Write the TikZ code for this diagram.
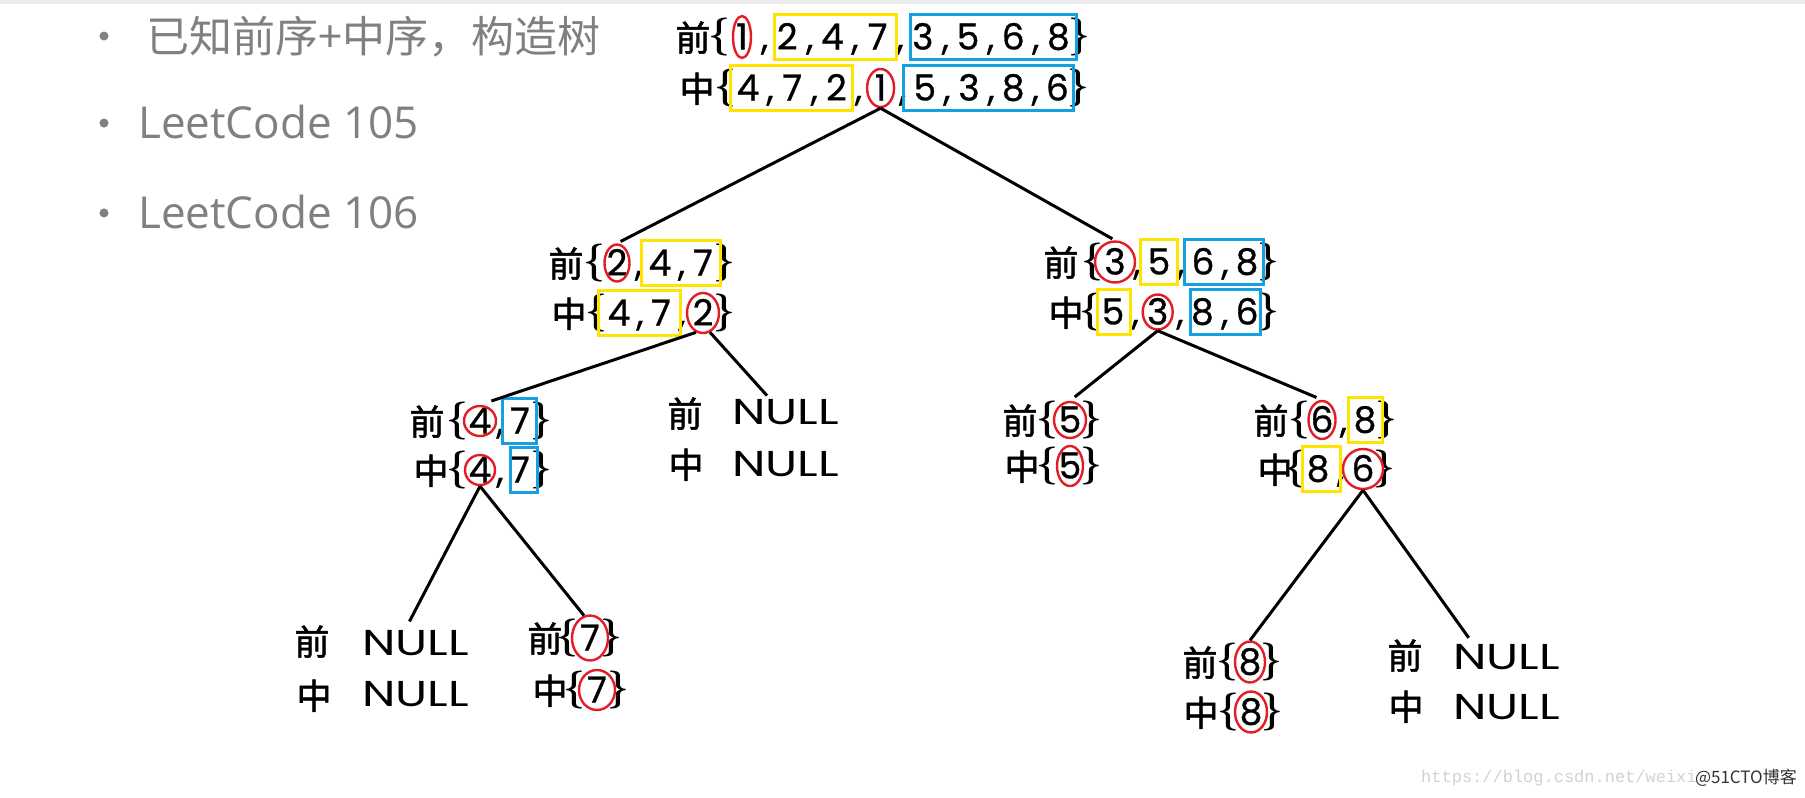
\documentclass[tikz,border=0pt]{standalone}
\usepackage{fontspec}
\usepackage{graphicx}
\usetikzlibrary{calc,shapes.geometric}
\newfontfamily\cjk{Noto Sans CJK SC}
\newfontfamily\cjkb{Noto Sans CJK SC}[FakeBold=1.5]
\newfontfamily\digf{Poppins}[FakeBold=0.8]
\newfontfamily\nulf{Poppins}
\newfontfamily\osans{Open Sans}
\newfontfamily\wmono{Liberation Mono}
\definecolor{boxyellow}{RGB}{255,228,0}
\definecolor{boxblue}{RGB}{22,160,226}
\definecolor{ringred}{RGB}{228,28,38}
\definecolor{slidegray}{RGB}{128,128,128}
\definecolor{topband}{RGB}{236,236,236}

\tikzset{
 hz/.style={font=\cjkb\fontsize{35}{35}\selectfont, inner ysep=0pt, inner xsep=-1.5pt, text height=27.5pt, text depth=3.5pt, anchor=center},
 dig/.style={font=\digf\fontsize{36}{36}\selectfont, inner sep=0pt, text height=25pt, text depth=0pt, minimum width=22pt, anchor=center},
 cma/.style={font=\digf\fontsize{36}{36}\selectfont, inner sep=0pt, anchor=base},
 brc/.style={font=\fontsize{38}{38}\selectfont\bfseries, inner ysep=0pt, inner xsep=-4pt, text height=28.5pt, text depth=9.5pt, anchor=center},
 nul/.style={font=\nulf\fontsize{36}{36}\selectfont, inner sep=0pt, text height=25pt, text depth=0pt, anchor=west},
 ybox/.style={draw=boxyellow, line width=3pt},
 bbox/.style={draw=boxblue, line width=3pt},
 rring/.style={draw=ringred, line width=2.4pt, ellipse, inner sep=0pt},
 conn/.style={draw=black, line width=3pt},
 bul/.style={circle, fill=slidegray, inner sep=0pt, minimum size=9pt},
 ttl/.style={anchor=west, text=slidegray, inner sep=0pt},
}

% name, y, char x, char, first digit x, pitch, digits
\newcommand\TreeRow[7]{%
  \node[hz] (#1c) at (#3,#2+2) {#4};
  \foreach \d [count=\i] in {#7} {
    \pgfmathsetmacro\xx{#5+(\i-1)*#6}
    \node[dig] (#1-\i) at (\xx,#2) {\d};
    \ifnum\i>1 \node[cma] (#1k\i) at (\xx-#6/2,#2+12.5) {,};\fi
    \xdef\lastx{\xx}
  }
  \node[brc] (#1o) at (#5-23,#2) {\{};
  \node[brc] (#1e) at (\lastx+21,#2) {\}};
}
% name, char x, char y, char, NULL x, NULL y
\newcommand\NullRow[6]{%
  \node[hz] (#1c) at (#2,#3) {#4};
  \node[nul] (#1) at (#5,#6) {\scalebox{1.32}[1]{NULL}};
}
% style, from, to, left pad, right pad
\newcommand\Bx[5]{\draw[#1] ($(#2)+(-#4,-23)$) rectangle ($(#3)+(#5,22)$);}
% name, at, width, height
\newcommand\Ring[4]{\node[rring, minimum width=#3pt, minimum height=#4pt] (#1) at (#2) {};}

\begin{document}
\begin{tikzpicture}[x=1pt,y=-1pt]
\useasboundingbox (0,0) rectangle (1805,798);
\fill[white] (0,0) rectangle (1805,798);
\fill[topband] (0,0) rectangle (1805,4);

% slide bullets
\node[bul] (b1) at (104,36) {};
\node[ttl, font=\cjk\fontsize{43}{43}\selectfont, text height=34.4pt, text depth=4.3pt] (t1) at (146,37) {已知前序+中序，构造树};
\node[bul] (b2) at (104,123) {};
\node[ttl, font=\osans\fontsize{44}{44}\selectfont, text height=31.4pt, text depth=0pt] (t2) at (138,123) {LeetCode 105};
\node[bul] (b3) at (104,213) {};
\node[ttl, font=\osans\fontsize{44}{44}\selectfont, text height=31.4pt, text depth=0pt] (t3) at (138,213) {LeetCode 106};

% root
\TreeRow{ra}{37}{693}{前}{742}{45.2}{1,2,4,7,3,5,6,8}
\TreeRow{rb}{88}{697}{中}{748}{44.2}{4,7,2,1,5,3,8,6}
\Ring{r1}{ra-1}{18}{42}
\Ring{r2}{rb-4}{27}{38}
\Bx{ybox}{ra-2}{ra-4}{13}{19}
\Bx{bbox}{ra-5}{ra-8}{12}{18}
\Bx{ybox}{rb-1}{rb-3}{18}{16}
\Bx{bbox}{rb-5}{rb-8}{21}{16}

% level 1 left
\TreeRow{la}{263}{566}{前}{617}{43}{2,4,7}
\TreeRow{lb}{313}{569}{中}{619}{42}{4,7,2}
\Ring{l1}{la-1}{25}{37}
\Ring{l2}{lb-3}{32}{40}
\Bx{ybox}{la-2}{la-3}{19}{17}
\Bx{ybox}{lb-1}{lb-2}{21}{19}

% level 1 right
\TreeRow{ma}{262}{1061}{前}{1115}{44}{3,5,6,8}
\TreeRow{mb}{312}{1066}{中}{1113}{44.7}{5,3,8,6}
\Ring{m1}{ma-1}{40}{41}
\Ring{m2}{mb-2}{30}{35}
\Bx{ybox}{ma-2}{ma-2}{19}{18}
\Bx{bbox}{ma-3}{ma-4}{19}{16}
\Bx{ybox}{mb-1}{mb-1}{16}{17}
\Bx{bbox}{mb-3}{mb-4}{12}{13}

% level 2
\TreeRow{na}{421}{427}{前}{480}{40}{4,7}
\TreeRow{nb}{470}{431}{中}{480}{40}{4,7}
\Ring{n1}{na-1}{32}{30}
\Ring{n2}{nb-1}{30}{30}
\Bx{bbox}{na-2}{na-2}{18}{16}
\Bx{bbox}{nb-2}{nb-2}{10}{17}

\NullRow{oa}{685}{415}{前}{732}{412}
\NullRow{ob}{686}{466}{中}{732}{464}

\TreeRow{pa}{420}{1020}{前}{1070}{40}{5}
\TreeRow{pb}{466}{1022}{中}{1070}{40}{5}
\Ring{p1}{pa-1}{32}{36}
\Ring{p2}{pb-1}{26}{40}

\TreeRow{qa}{420}{1271}{前}{1322}{43}{6,8}
\TreeRow{qb}{469}{1275}{中}{1318}{45}{8,6}
\Ring{q1}{qa-1}{27}{38}
\Ring{q2}{qb-2}{40}{40}
\Bx{ybox}{qa-2}{qa-2}{17}{17}
\Bx{ybox}{qb-1}{qb-1}{16}{22}

% level 3
\NullRow{sa}{312}{643}{前}{362}{643}
\NullRow{sb}{314}{697}{中}{362}{694}

\TreeRow{ta}{638}{545}{前}{590}{40}{7}
\TreeRow{tb}{690}{550}{中}{597}{40}{7}
\Ring{t1}{ta-1}{36}{45}
\Ring{t2}{tb-1}{36}{40}

\TreeRow{ua}{662}{1200}{前}{1250}{40}{8}
\TreeRow{ub}{712}{1201}{中}{1251}{40}{8}
\Ring{u1}{ua-1}{30}{41}
\Ring{u2}{ub-1}{32}{41}

\NullRow{va}{1405}{657}{前}{1453}{657}
\NullRow{vb}{1406}{708}{中}{1453}{707}

% connectors
\draw[conn, shorten >=4pt] (r2.south) -- (l1.north);
\draw[conn, shorten >=3pt] (r2.south) -- (m1.north);
\draw[conn, shorten >=12pt] (l2.250) -- (n1.north);
\draw[conn, shorten >=5pt] (l2.290) -- (oa.140);
\draw[conn, shorten >=6pt] (m2.south) -- (p1.north);
\draw[conn, shorten >=6pt] (m2.south) -- (q1.north);
\draw[conn, shorten >=10pt] (n2.south) -- (sa.130);
\draw[conn] (n2.south) -- (t1.105);
\draw[conn] (q2.south) -- (u1.north);
\draw[conn, shorten >=8pt] (q2.south) -- (va.159);

% watermark
\node[anchor=west, inner sep=0pt, font=\wmono\fontsize{17}{17}\selectfont, text=gray!35] (wm1) at (1421,778) {https://blog.csdn.net/weixi};
\node[anchor=east, inner sep=0pt, font=\cjk\fontsize{17}{17}\selectfont, text=black!80] (wm2) at (1797,778) {@51CTO博客};
\end{tikzpicture}
\end{document}
